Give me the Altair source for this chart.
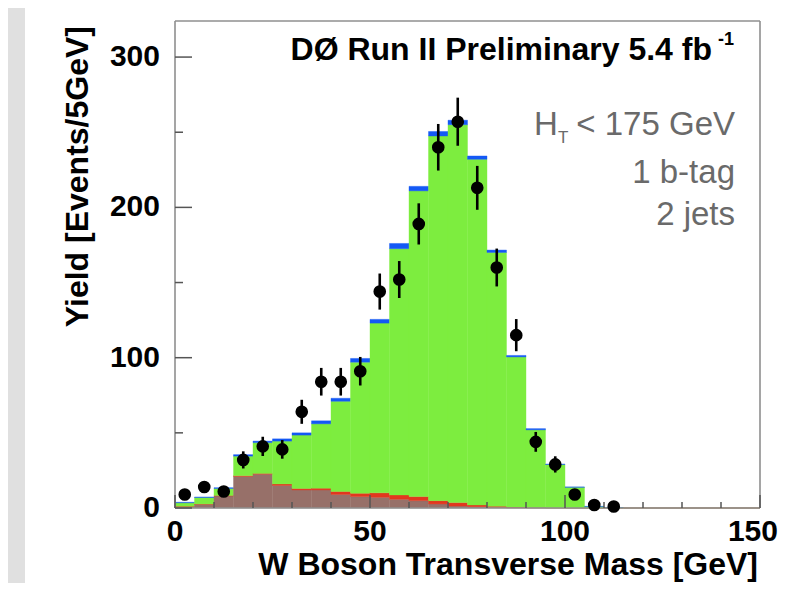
import altair as alt
import pandas as pd

# ---------------- data ----------------
bin_low = [0, 5, 10, 15, 20, 25, 30, 35, 40, 45, 50, 55, 60, 65, 70, 75, 80, 85, 90, 95, 100, 105, 110]
bin_width = 5
# stacked components (bottom -> top)
brown = [1.0, 2.5, 8.0, 21.0, 22.5, 15.0, 12.0, 12.0, 9.0, 7.6, 7.1, 5.8, 4.9, 2.7, 1.3, 0.8, 0.4, 0.2, 0.1, 0.05, 0.0, 0.0, 0.0]
red = [0.2, 0.2, 0.3, 0.5, 0.5, 1.0, 1.0, 1.2, 2.0, 2.2, 3.0, 2.9, 2.7, 2.2, 2.3, 1.2, 0.8, 0.4, 0.2, 0.1, 0.1, 0.0, 0.0]
green = [2.3, 4.3, 4.7, 13.0, 20.5, 28.5, 35.5, 42.8, 60.0, 87.2, 112.9, 163.8, 203.4, 242.6, 251.4, 230.0, 168.8, 99.9, 51.7, 28.8, 13.7, 1.0, 0.3]
blue = [0.3, 0.3, 0.5, 1.0, 1.0, 1.5, 1.5, 2.0, 2.0, 2.5, 2.5, 3.5, 3.0, 3.0, 3.0, 2.2, 1.6, 1.0, 0.8, 0.3, 0.2, 0.1, 0.0]
# observed data points and their error bars
data_counts = [9, 14, 11, 32, 41, 39, 64, 84, 84, 91, 144, 152, 189, 240, 257, 213, 160, 115, 44, 29, 9, 2, 1]
data_err = [3.0, 3.7, 3.3, 5.7, 6.4, 6.2, 8.0, 9.2, 9.2, 9.5, 12.0, 12.3, 13.7, 15.5, 16.0, 14.6, 12.6, 10.7, 6.6, 5.4, 3.0, 1.4, 1.0]

component_names = ["brown", "red", "green", "blue"]
component_colors = ["#977069", "#e2371f", "#7ded3f", "#1459f5"]

x_domain = [0, 150]
y_domain = [0, 324]
x_labels = [0, 50, 100]
x_last_label = [150]
y_labels = [0, 100, 200, 300]
x_major = [0, 50, 100, 150]
x_minor = [10, 20, 30, 40, 60, 70, 80, 90, 110, 120, 130, 140]
y_major = [0, 100, 200, 300]
y_minor = [50, 150, 250]
x_title = "W Boson Transverse Mass [GeV]"
y_title = "Yield [Events/5GeV]"

# ---------------- tables ----------------
rows = []
for i, lo in enumerate(bin_low):
    base = 0.0
    for name, arr in zip(component_names, [brown, red, green, blue]):
        rows.append({"x0": lo, "x1": lo + bin_width, "y0": base, "y1": base + arr[i], "comp": name})
        base += arr[i]
hist = pd.DataFrame(rows)

pts = pd.DataFrame({
    "xc": [lo + bin_width / 2 for lo in bin_low],
    "n": data_counts,
    "lo": [n - e for n, e in zip(data_counts, data_err)],
    "hi": [n + e for n, e in zip(data_counts, data_err)],
})

W, H = 585, 487
FONT = "Liberation Sans"
xs = alt.Scale(domain=x_domain, nice=False, zero=False)
ys = alt.Scale(domain=y_domain, nice=False, zero=False)
one = pd.DataFrame({"a": [0]})

# grey slide border on the left
band_l = alt.Chart(one).mark_rect(color="#e0e0e0").encode(
    x=alt.value(-170), x2=alt.value(-150), y=alt.value(-20), y2=alt.value(570))

bars = alt.Chart(hist).mark_rect(strokeWidth=0.4).encode(
    x=alt.X("x0:Q", scale=xs, axis=None),
    x2="x1:Q",
    y=alt.Y("y0:Q", scale=ys, axis=None),
    y2="y1:Q",
    color=alt.Color("comp:N", scale=alt.Scale(domain=component_names, range=component_colors), legend=None),
    stroke=alt.Stroke("comp:N", scale=alt.Scale(domain=component_names, range=component_colors), legend=None),
)

frame_v = alt.Chart(pd.DataFrame({"fx": x_domain, "ya": [y_domain[0]] * 2, "yb": [y_domain[1]] * 2})).mark_rule(
    color="#8f8f8f", strokeWidth=1.6).encode(
    x=alt.X("fx:Q", scale=xs, axis=None), y=alt.Y("ya:Q", scale=ys, axis=None), y2="yb:Q")
frame_h = alt.Chart(pd.DataFrame({"fy": y_domain, "xa": [x_domain[0]] * 2, "xb": [x_domain[1]] * 2})).mark_rule(
    color="#8f8f8f", strokeWidth=1.6).encode(
    y=alt.Y("fy:Q", scale=ys, axis=None), x=alt.X("xa:Q", scale=xs, axis=None), x2="xb:Q")
zero_line = alt.Chart(pd.DataFrame({"fy": [0], "xa": [bin_low[-1] + bin_width], "xb": [x_domain[1]]})).mark_rule(
    color="#a8784c", strokeWidth=1.6).encode(
    y=alt.Y("fy:Q", scale=ys, axis=None), x=alt.X("xa:Q", scale=xs, axis=None), x2="xb:Q")

tick_color = "#555555"
ytick_major = alt.Chart(pd.DataFrame({"v": y_major})).mark_rule(color=tick_color, strokeWidth=1.5).encode(
    y=alt.Y("v:Q", scale=ys, axis=None), x=alt.value(0), x2=alt.value(17))
ytick_minor = alt.Chart(pd.DataFrame({"v": y_minor})).mark_rule(color=tick_color, strokeWidth=1.5).encode(
    y=alt.Y("v:Q", scale=ys, axis=None), x=alt.value(0), x2=alt.value(8))
xtick_major = alt.Chart(pd.DataFrame({"v": x_major})).mark_rule(color=tick_color, strokeWidth=1.5).encode(
    x=alt.X("v:Q", scale=xs, axis=None), y=alt.value(H), y2=alt.value(H - 13))
xtick_minor = alt.Chart(pd.DataFrame({"v": x_minor})).mark_rule(color=tick_color, strokeWidth=1.5).encode(
    x=alt.X("v:Q", scale=xs, axis=None), y=alt.value(H), y2=alt.value(H - 6))

# tick labels, placed through the scales
ylab = alt.Chart(pd.DataFrame({"v": y_labels, "t": [str(v) for v in y_labels]})).mark_text(
    font=FONT, fontSize=30, fontWeight="bold", color="black", align="right", baseline="middle").encode(
    y=alt.Y("v:Q", scale=ys, axis=None), x=alt.value(-15), text="t:N")
xlab = alt.Chart(pd.DataFrame({"v": x_labels, "t": [str(v) for v in x_labels]})).mark_text(
    font=FONT, fontSize=30, fontWeight="bold", color="black", align="center", baseline="alphabetic").encode(
    x=alt.X("v:Q", scale=xs, axis=None), y=alt.value(H + 33), text="t:N")
xlab_last = alt.Chart(pd.DataFrame({"v": x_last_label, "t": [str(v) for v in x_last_label]})).mark_text(
    font=FONT, fontSize=30, fontWeight="bold", color="black", align="right", baseline="alphabetic",
    dx=18).encode(
    x=alt.X("v:Q", scale=xs, axis=None), y=alt.value(H + 33), text="t:N")

errs = alt.Chart(pts).mark_rule(color="black", strokeWidth=2.6).encode(
    x=alt.X("xc:Q", scale=xs, axis=None), y=alt.Y("lo:Q", scale=ys, axis=None), y2="hi:Q")
dots = alt.Chart(pts).mark_circle(color="black", opacity=1, size=160).encode(
    x=alt.X("xc:Q", scale=xs, axis=None), y=alt.Y("n:Q", scale=ys, axis=None))

def label(txt, x, y, size, align="right", weight="bold", color="black", baseline="alphabetic", angle=0):
    return alt.Chart(one).mark_text(text=txt, font=FONT, fontSize=size, fontWeight=weight, color=color,
                                    align=align, baseline=baseline, angle=angle).encode(
        x=alt.value(x), y=alt.value(y))

grey = "#6a6a6a"
texts = [
    label(x_title, 583, 554, 32),
    label(y_title, -97, 5, 32, baseline="middle", angle=270),
    label("DØ Run II Preliminary 5.4 fb", 537, 39, 32),
    label("-1", 543, 24, 18, align="left"),
    label("H", 359, 114, 33, align="left", weight="normal", color=grey),
    label("T", 383, 122, 17, align="left", weight="normal", color=grey),
    label("< 175 GeV", 560, 114, 33, weight="normal", color=grey),
    label("1 b-tag", 560, 162, 33, weight="normal", color=grey),
    label("2 jets", 560, 204, 33, weight="normal", color=grey),
]

chart = alt.layer(
    band_l, bars, zero_line, frame_v, frame_h,
    ytick_major, ytick_minor, xtick_major, xtick_minor,
    ylab, xlab, xlab_last, errs, dots, *texts
).properties(
    width=W, height=H,
    autosize=alt.AutoSizeParams(type="none"),
    padding={"left": 167, "top": 13, "right": 20, "bottom": 75},
    background="white",
).configure_view(stroke=None)

chart.save("out.html", embed_options={"renderer": "svg", "actions": False})
